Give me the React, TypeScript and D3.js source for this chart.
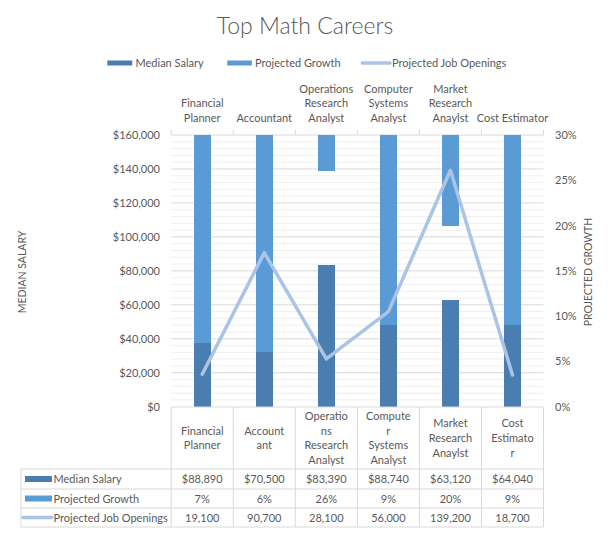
import React from "react";
import * as d3 from "d3";

const categories = ["Financial Planner", "Accountant", "Operations Research Analyst", "Computer Systems Analyst", "Market Research Anaylst", "Cost Estimator"];
const topLabels = [["Financial", "Planner"], ["Accountant"], ["Operations", "Research", "Analyst"], ["Computer", "Systems", "Analyst"], ["Market", "Research", "Anaylst"], ["Cost Estimator"]];
const tableLabels = [["Financial", "Planner"], ["Account", "ant"], ["Operatio", "ns", "Research", "Analyst"], ["Compute", "r", "Systems", "Analyst"], ["Market", "Research", "Anaylst"], ["Cost", "Estimato", "r"]];
const medianSalary = [88890, 70500, 83390, 88740, 63120, 64040];
const projectedGrowth = [0.07, 0.06, 0.26, 0.09, 0.2, 0.09];
const jobOpenings = [19100, 90700, 28100, 56000, 139200, 18700];
const salaryTicks = [0, 20000, 40000, 60000, 80000, 100000, 120000, 140000, 160000];
const growthTicks = [0, 0.05, 0.1, 0.15, 0.2, 0.25, 0.3];

const W = 610, H = 533;
const L = 171.2, R = 543.5, T = 135, B = 406.7;
const FONT = "Lato, 'Liberation Sans', Arial, sans-serif";
const TXT = "#595959";
const GRID = "#d9d9d9";
const MINOR = "#efefef";
const DARK = "#4a7eb0";
const MID = "#5b9bd5";
const LINE = "#a9c4e6";

export default function App() {
  const x = d3.scaleBand<string>().domain(categories).range([L, R]).paddingInner(0).paddingOuter(0);
  const y = d3.scaleLinear().domain([0, 160000]).range([B, T]);
  const y2 = d3.scaleLinear().domain([0, 0.3]).range([B, T]);
  const bw = 16.7;
  const cx = (c: string) => (x(c) as number) + x.bandwidth() / 2;
  const minor = d3.range(0, 160001, 4000).filter((v) => v % 20000 !== 0);
  const salaryFmt = (v: number) => "$" + d3.format(",")(v);
  const pct = d3.format(".0%");
  const lineGen = d3.line<number>().x((_, i) => cx(categories[i])).y((v) => y(v));
  const boundaries = d3.range(categories.length + 1).map((i) => L + i * x.bandwidth());

  const rowYs = [469, 489, 508, 527];
  const rows = [
    { name: "Median Salary", vals: medianSalary.map(salaryFmt), key: "dark" },
    { name: "Projected Growth", vals: projectedGrowth.map(pct), key: "mid" },
    { name: "Projected Job Openings", vals: jobOpenings.map((v) => d3.format(",")(v)), key: "line" },
  ];

  return (
    <svg width={W} height={H} style={{ position: "absolute", left: 0, top: 0, background: "#fff" }} fontFamily={FONT}>
      <rect x={0} y={0} width={W} height={H} fill="#fff" />
      <text x={305} y={34} textAnchor="middle" fontSize={23} fontWeight={300} fill={TXT}>Top Math Careers</text>

      {/* legend */}
      <g fontSize={11} fill={TXT}>
        <rect x={107.3} y={60.5} width={25} height={5} fill={DARK} />
        <text x={135.5} y={66.5}>Median Salary</text>
        <rect x={227.3} y={60.5} width={24.5} height={5} fill={MID} />
        <text x={255} y={66.5}>Projected Growth</text>
        <line x1={362.3} x2={390} y1={63} y2={63} stroke={LINE} strokeWidth={3.5} strokeLinecap="round" />
        <text x={392} y={66.5}>Projected Job Openings</text>
      </g>

      {/* gridlines */}
      {minor.map((v) => (
        <line key={"m" + v} x1={L} x2={R} y1={y(v)} y2={y(v)} stroke={MINOR} strokeWidth={1} />
      ))}
      {salaryTicks.filter((v) => v > 0).map((v) => (
        <line key={"g" + v} x1={L} x2={R} y1={y(v)} y2={y(v)} stroke={GRID} strokeWidth={1} />
      ))}

      {/* top category axis */}
      {boundaries.map((bx, i) => (
        <line key={"tb" + i} x1={bx} x2={bx} y1={T - 5} y2={T} stroke={GRID} />
      ))}
      <g fontSize={11} fill={TXT} textAnchor="middle">
        {categories.map((c, i) => (
          <text key={c} x={cx(c)} y={122 - (topLabels[i].length - 1) * 14.6}>
            {topLabels[i].map((s, j) => (
              <tspan key={j} x={cx(c)} dy={j === 0 ? 0 : 14.6}>{s}</tspan>
            ))}
          </text>
        ))}
      </g>

      {/* left axis */}
      <g fontSize={11} fill={TXT} textAnchor="end">
        {salaryTicks.map((v) => (
          <text key={v} x={160} y={y(v) + 4}>{salaryFmt(v)}</text>
        ))}
      </g>
      <text transform={`translate(26,272) rotate(-90)`} textAnchor="middle" fontSize={10.5} fill={TXT}>MEDIAN SALARY</text>

      {/* right axis */}
      <g fontSize={11} fill={TXT} textAnchor="start">
        {growthTicks.map((v) => (
          <text key={v} x={555} y={y2(v) + 4}>{pct(v)}</text>
        ))}
      </g>
      <text transform={`translate(592,272) rotate(-90)`} textAnchor="middle" fontSize={10.5} fill={TXT}>PROJECTED GROWTH</text>

      {/* bars */}
      <g shapeRendering="crispEdges">
        {categories.map((c, i) => (
          <rect key={"s" + c} x={cx(c) - bw / 2} width={bw} y={y(medianSalary[i])} height={B - y(medianSalary[i])} fill={DARK} />
        ))}
        {categories.map((c, i) => (
          <rect key={"p" + c} x={cx(c) - bw / 2} width={bw} y={y2(0.3)} height={y2(projectedGrowth[i]) - y2(0.3)} fill={MID} />
        ))}
      </g>
      <path d={lineGen(jobOpenings) as string} fill="none" stroke={LINE} strokeWidth={3.5} strokeLinejoin="round" strokeLinecap="round" />

      {/* data table */}
      <g stroke={GRID} strokeWidth={1}>
        <line x1={L} x2={R} y1={407} y2={407} />
        {rowYs.map((ry) => (
          <line key={"h" + ry} x1={21} x2={R} y1={ry} y2={ry} />
        ))}
        <line x1={21} x2={21} y1={469} y2={527} />
        {boundaries.map((bx, i) => (
          <line key={"v" + i} x1={bx} x2={bx} y1={407} y2={527} />
        ))}
      </g>
      <g fontSize={11} fill={TXT} textAnchor="middle">
        {categories.map((c, i) => {
          const n = tableLabels[i].length;
          const y0 = 438 - ((n - 1) * 14.6) / 2 + 4;
          return (
            <text key={"tl" + c} x={cx(c)} y={y0}>
              {tableLabels[i].map((s, j) => (
                <tspan key={j} x={cx(c)} dy={j === 0 ? 0 : 14.6}>{s}</tspan>
              ))}
            </text>
          );
        })}
      </g>
      {rows.map((r, ri) => {
        const mid = (rowYs[ri] + rowYs[ri + 1]) / 2;
        return (
          <g key={r.name} fontSize={11} fill={TXT}>
            {r.key === "dark" && <rect x={25} y={mid - 3} width={27} height={6} fill={DARK} />}
            {r.key === "mid" && <rect x={25} y={mid - 3} width={27} height={6} fill={MID} />}
            {r.key === "line" && <line x1={23} x2={51.5} y1={mid} y2={mid} stroke={LINE} strokeWidth={3.5} strokeLinecap="round" />}
            <text x={53.5} y={mid + 4}>{r.name}</text>
            {r.vals.map((v, i) => (
              <text key={i} x={cx(categories[i])} y={mid + 4} textAnchor="middle">{v}</text>
            ))}
          </g>
        );
      })}
    </svg>
  );
}
